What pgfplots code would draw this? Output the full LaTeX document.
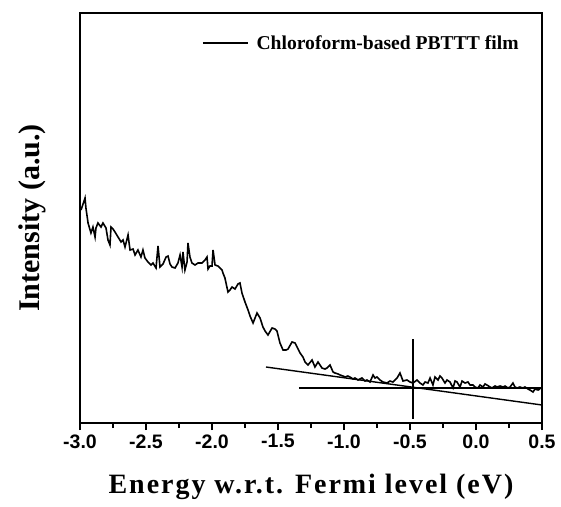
\documentclass[border=0pt]{standalone}
\usepackage{fontspec}
\setmainfont{Liberation Serif}
\setsansfont{Liberation Sans}
\usepackage{pgfplots}
\pgfplotsset{compat=1.18}
\begin{document}
\begin{tikzpicture}
\useasboundingbox[fill=white] (-80pt,-83pt) rectangle (481pt,423pt);
\begin{axis}[
  width=462pt, height=410pt, scale only axis,
  xmin=-3, xmax=0.5, ymin=0, ymax=410,
  axis line style={line width=2.2pt},
  xtick={-3,-2.5,-2,-1.5,-1,-0.5,0,0.5},
  xticklabels={-3.0,-2.5,-2.0,-1.5,-1.0,-0.5,0.0,0.5},
  minor x tick num=1,
  ytick=\empty,
  xtick pos=lower, tick align=outside,
  major tick length=7pt, minor tick length=5pt,
  every tick/.style={line width=1.6pt, black},
  xticklabel style={font=\sffamily\bfseries\fontsize{19.5}{19.5}\selectfont, yshift=-1pt},
  xlabel={Energy w.r.t. Fermi level (eV)},
  xlabel style={font=\bfseries\fontsize{28}{28}\selectfont\addfontfeature{LetterSpace=7}, at={(axis description cs:0.5,-0.156)}, anchor=center},
  ylabel={Intensity (a.u.)},
  ylabel style={font=\bfseries\fontsize{30}{30}\selectfont, at={(axis description cs:-0.104,0.5)}, anchor=center},
  legend style={at={(axis description cs:0.952,0.927)}, anchor=east, draw=none, fill=none,
    font=\bfseries\fontsize{19.6}{20}\selectfont, inner sep=0pt, nodes={inner sep=1pt}},
  legend image code/.code={\draw[line width=1.4pt] (0pt,0pt) -- (45pt,0pt); \path (52pt,0pt);},
]
\addplot[black, line width=1.6pt] coordinates {
(-2.992,213) (-2.962,225) (-2.955,215) (-2.939,200) (-2.917,190) (-2.902,196)
(-2.886,186) (-2.879,195) (-2.864,200) (-2.841,196) (-2.826,200) (-2.803,195)
(-2.788,183) (-2.773,178) (-2.765,196) (-2.750,194) (-2.735,191) (-2.712,186)
(-2.689,181) (-2.674,183) (-2.659,176) (-2.636,188) (-2.621,173) (-2.598,174)
(-2.583,168) (-2.561,173) (-2.538,166) (-2.523,173) (-2.508,165) (-2.485,161)
(-2.462,158) (-2.447,160) (-2.424,155) (-2.409,177) (-2.394,156) (-2.371,159)
(-2.348,166) (-2.333,167) (-2.318,159) (-2.303,156) (-2.280,155) (-2.258,160)
(-2.242,168) (-2.227,156) (-2.220,171) (-2.205,153) (-2.189,161) (-2.182,180)
(-2.167,166) (-2.152,160) (-2.129,158) (-2.106,160) (-2.076,160) (-2.053,163)
(-2.038,166) (-2.030,154) (-2.015,157) (-2.000,157) (-1.992,173) (-1.977,158)
(-1.955,157) (-1.939,155) (-1.924,153) (-1.917,150) (-1.902,145) (-1.879,131)
(-1.864,133) (-1.848,136) (-1.826,134) (-1.803,139) (-1.788,140) (-1.773,130)
(-1.750,121) (-1.727,113) (-1.712,107) (-1.689,100) (-1.674,105) (-1.659,110)
(-1.636,105) (-1.614,96) (-1.598,92) (-1.576,88) (-1.545,95) (-1.523,94)
(-1.508,92) (-1.485,80) (-1.462,73) (-1.439,73) (-1.424,74) (-1.394,81)
(-1.371,80) (-1.348,74) (-1.333,70) (-1.311,66) (-1.295,61) (-1.273,58)
(-1.242,63) (-1.220,56) (-1.197,61) (-1.167,55) (-1.144,54) (-1.129,55)
(-1.106,58) (-1.083,51) (-1.068,50) (-1.045,49) (-1.030,48) (-1.008,47)
(-0.992,46) (-0.970,47) (-0.955,46) (-0.932,44) (-0.917,45) (-0.894,43)
(-0.864,45) (-0.841,42) (-0.826,43) (-0.803,41) (-0.780,48) (-0.765,45)
(-0.750,46) (-0.727,43) (-0.705,41) (-0.674,40) (-0.652,42) (-0.629,41)
(-0.614,43) (-0.598,45) (-0.576,50) (-0.553,42) (-0.523,43) (-0.500,41)
(-0.477,40) (-0.447,43) (-0.424,40) (-0.402,38) (-0.386,41) (-0.364,40)
(-0.348,45) (-0.326,38) (-0.311,46) (-0.288,43) (-0.273,47) (-0.258,45)
(-0.235,40) (-0.220,43) (-0.197,41) (-0.174,35) (-0.159,42) (-0.144,41)
(-0.121,36) (-0.106,42) (-0.083,40) (-0.061,41) (-0.045,38) (-0.023,38)
(-0.008,36) (0.015,35) (0.030,38) (0.053,36) (0.068,39) (0.083,38)
(0.106,36) (0.121,35) (0.144,37) (0.159,36) (0.182,37) (0.205,36)
(0.220,37) (0.242,35) (0.258,36) (0.280,40) (0.295,36) (0.311,35)
(0.333,36) (0.356,35) (0.371,36) (0.394,34) (0.409,33) (0.432,31)
(0.447,34) (0.470,33) (0.485,34)
};
\addlegendentry{Chloroform-based PBTTT film}
\addplot[black, line width=1.4pt, forget plot] coordinates {(-1.591,56) (0.5,18)};
\addplot[black, line width=1.4pt, forget plot] coordinates {(-1.341,35) (0.5,35)};
\addplot[black, line width=1.4pt, forget plot] coordinates {(-0.477,84) (-0.477,4)};
\end{axis}
\end{tikzpicture}
\end{document}
